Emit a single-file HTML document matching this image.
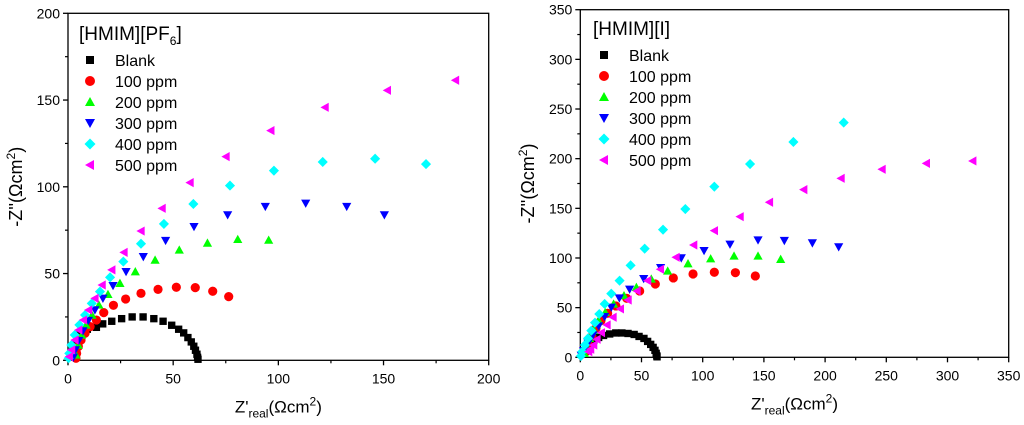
<!DOCTYPE html>
<html><head><meta charset="utf-8"><style>
html,body{margin:0;padding:0;background:#fff;width:1024px;height:425px;overflow:hidden}
svg text{font-family:"Liberation Sans",Arial,sans-serif}
</style></head><body>
<svg id="svg" width="1024" height="425" viewBox="0 0 1024 425"></svg>
<script>
const seriesNames = ["Blank","100 ppm","200 ppm","300 ppm","400 ppm","500 ppm"];
const seriesColors = ["#000","#f00","#0f0","#00f","#0ff","#f0f"];
const seriesShapes = ["square","circle","up","down","diamond","left"];

const leftBlank = [[1.3,2.1],[2.2,6],[3.3,8.8],[4.4,11.7],[5.7,14.6],[7.3,16.5],[9.2,17.9],[13.5,19],[16.5,21],[20.8,22.5],[25.5,24],[30.5,25],[35.7,25],[40.8,24],[45.2,22.5],[49.3,20.2],[52.6,17.9],[55,15.8],[57,13.1],[58.6,10.6],[59.8,8.1],[60.6,5.8],[61.3,3.5],[61.6,1.7],[61.8,0.6]];
const left100 = [[76.4,36.7],[68.8,39.8],[60.5,41.9],[51.5,42.1],[42.8,40.9],[34.7,38.6],[27.4,35.3],[21.6,31.7],[17,27.5],[13.5,23.2],[10.5,19.4],[8.1,15.6],[6.2,11.7],[4.9,7.9],[4.1,4],[3.8,1.2]];
const left200 = [[95.4,69.3],[80.7,69.7],[66.3,67.6],[52.9,63.6],[41.4,57.8],[32,51.1],[24.7,44.4],[19,38],[14.7,31.9],[11.4,26.1],[8.6,20.4],[6.5,14.6],[4.9,8.8],[3.8,3.1]];
const left300 = [[150.4,83.8],[132.5,88.6],[113,90.5],[93.8,88.6],[75.9,83.8],[59.9,77],[46.4,69],[35.8,59.7],[27.6,51.1],[21.4,43],[16.6,35.7],[12.8,29],[9.7,22.9],[7.1,16.9],[5.1,11.3],[3.5,6],[2.5,1.7]];
const left400 = [[170.2,113.1],[146,116.2],[121.1,114.3],[97.9,109.3],[77,100.7],[59.6,90.1],[45.6,78.6],[34.7,67.2],[26.3,56.9],[20,47.8],[15.2,39.6],[11.3,32.8],[8.1,26.1],[5.4,20.4],[3.2,14.6],[1.6,8.8],[0.6,4],[0.3,1.2]];
const left500 = [[184.2,161.4],[151.8,155.6],[122.2,145.8],[96.4,132.4],[75.1,117.4],[58,102.4],[44.7,87.6],[34.7,74.5],[26.6,62.2],[20.8,52.1],[16.2,43.4],[12.8,35.7],[9.8,29],[7.3,23.2],[5.1,17.5],[3.3,11.7],[1.7,6],[0.6,2.1]];

const rightBlank = [[3,4],[5,9],[8,13],[11,17],[15,20],[19,22],[24,23.5],[29,24.5],[34,24.5],[39,24],[44,23],[48,21],[52,19],[55,16],[57.5,13],[59.5,10],[61,7],[62,4],[62.5,1.5],[62.7,0.5]];
const right100 = [[143,81.9],[126.7,85.2],[109.5,85.6],[92.1,83.9],[76,79.9],[61.3,73.8],[48.5,66.8],[37.9,59.4],[29.1,51.7],[22.3,44.3],[16.9,36.9],[12.8,29.2],[9.5,20.8],[6.8,12.4],[4.6,5.7]];
const right200 = [[163.7,98.7],[145.2,102],[125.6,102],[106.5,99.3],[88,94.3],[71.4,86.9],[58,78.9],[45.8,70.5],[35.7,62.1],[27.2,53.7],[20.4,45.3],[15,36.9],[10.9,27.5],[7.6,19.1],[5.2,10.7],[3.3,4]];
const right300 = [[211.1,111.1],[189.6,115.1],[166.7,117.5],[145.2,118.1],[122.3,113.8],[101.1,107.4],[82.5,100],[65.6,90.3],[51.8,79.2],[40.3,68.5],[31.9,59.7],[25.3,50.3],[19.9,40.9],[15,31.5],[10.4,22.5],[6.3,14.1],[2.7,6.7],[0.8,2]];
const right400 = [[215.2,236.3],[174.1,216.8],[138.7,194.6],[109.5,171.8],[85.8,149.3],[67.6,128.5],[52.6,109.4],[41.1,92.6],[32.1,77.2],[25.3,64.1],[19.9,53.7],[15.5,43.6],[12,34.9],[9,26.8],[6.3,19.1],[3.8,12.4],[1.6,5.7],[0.5,1.3]];
const right500 = [[320.6,197.7],[282.7,195.3],[246.5,189.3],[213,180.2],[182.5,168.8],[154.5,156.1],[130.5,141.6],[109.5,127.5],[92.6,113.1],[78.2,100.7],[65.4,88.6],[55,77.2],[46.3,66.8],[39,57.7],[32.7,48.7],[26.7,40.3],[21.8,32.6],[17.2,24.8],[13.6,18.1],[10.9,12.4],[8.4,8.1],[6.8,5.7]];

const leftTicks = [0,50,100,150,200];
const rightTicks = [0,50,100,150,200,250,300,350];

const NS="http://www.w3.org/2000/svg";
const svg=document.getElementById('svg');
function mk(tag,attrs,parent){const e=document.createElementNS(NS,tag);for(const k in attrs)e.setAttribute(k,attrs[k]);(parent||svg).appendChild(e);return e;}

function marker(g,shape,cx,cy,color,s){
  let e;
  if(shape==="square") e=mk('rect',{x:cx-s*0.8,y:cy-s*0.8,width:s*1.6,height:s*1.6,fill:color},g);
  else if(shape==="circle") e=mk('circle',{cx:cx,cy:cy,r:s,fill:color},g);
  else {
    let p;
    if(shape==="up") p=[[cx,cy-s],[cx+s,cy+s*0.8],[cx-s,cy+s*0.8]];
    else if(shape==="down") p=[[cx,cy+s],[cx+s,cy-s*0.8],[cx-s,cy-s*0.8]];
    else if(shape==="diamond") p=[[cx,cy-s*1.1],[cx+s*1.1,cy],[cx,cy+s*1.1],[cx-s*1.1,cy]];
    else p=[[cx-s,cy],[cx+s*0.8,cy-s],[cx+s*0.8,cy+s]];
    e=mk('polygon',{points:p.map(q=>q.join(',')).join(' '),fill:color},g);
  }
  return e;
}

function chart(cfg){
  const g=mk('g',{});
  
  
  const xs=v=>cfg.x0+(v-cfg.min)/(cfg.max-cfg.min)*(cfg.x1-cfg.x0);
  const ys=v=>cfg.y0-(v-cfg.min)/(cfg.max-cfg.min)*(cfg.y0-cfg.y1);
  const frame=mk('rect',{x:cfg.x0,y:cfg.y1,width:cfg.x1-cfg.x0,height:cfg.y0-cfg.y1,fill:'none',stroke:'#000','stroke-width':1.3},g);
  
  
  const step=cfg.ticks[1]-cfg.ticks[0];
  cfg.ticks.forEach((t,i)=>{
    mk('line',{x1:xs(t),x2:xs(t),y1:cfg.y0,y2:cfg.y0+5,stroke:'#000','stroke-width':1.3},g);
    mk('line',{x1:cfg.x0,x2:cfg.x0-5,y1:ys(t),y2:ys(t),stroke:'#000','stroke-width':1.3},g);
    if(i<cfg.ticks.length-1){
      const m=t+step/2;
      mk('line',{x1:xs(m),x2:xs(m),y1:cfg.y0,y2:cfg.y0+3,stroke:'#000','stroke-width':1.2},g);
      mk('line',{x1:cfg.x0,x2:cfg.x0-3,y1:ys(m),y2:ys(m),stroke:'#000','stroke-width':1.2},g);
    }
    const xl=mk('text',{x:xs(t),y:cfg.y0+23,'font-size':14,'text-anchor':'middle'},g);
    xl.textContent=t;
    
    
    const yl=mk('text',{x:cfg.x0-8,y:ys(t)+5,'font-size':14,'text-anchor':'end'},g);
    yl.textContent=t;
    
    
  });
  const xt=mk('text',{x:(cfg.x0+cfg.x1)/2,y:cfg.y0+52,'font-size':17,'text-anchor':'middle'},g);
  xt.innerHTML='Z\'<tspan font-size="12" dy="5">real</tspan><tspan dy="-5">(Ωcm</tspan><tspan font-size="12" dy="-7">2</tspan><tspan dy="7">)</tspan>';
  
  
  const yt=mk('text',{x:0,y:0,'font-size':18,'text-anchor':'middle',transform:`translate(${cfg.yTitleX},${(cfg.y0+cfg.y1)/2}) rotate(-90)`},g);
  yt.innerHTML='-Z\'\'(Ωcm<tspan font-size="12" dy="-7">2</tspan><tspan dy="7">)</tspan>';
  
  
  cfg.series.forEach((pts,si)=>{
    const sg=mk('g',{},g);
    
    
    pts.forEach(p=>{
      const m=marker(sg,seriesShapes[si],xs(p[0]),ys(p[1]),seriesColors[si],4.6);
      
      
    });
  });
  const lg=mk('g',{},g);
  
  
  const tt=mk('text',{x:cfg.lx-11,y:cfg.ly-20,'font-size':19},lg);
  tt.innerHTML=cfg.title;
  
  
  seriesNames.forEach((n,i)=>{
    const eg=mk('g',{},lg);
    
    
    marker(eg,seriesShapes[i],cfg.lx,cfg.ly+i*21,seriesColors[i],5);
    const t=mk('text',{x:cfg.lx+25,y:cfg.ly+i*21+6,'font-size':16},eg);
    t.textContent=n;
  });
}

chart({name:'chart-hmim-pf6',x0:68,x1:488.7,y0:360.3,y1:13.3,min:0,max:200,ticks:leftTicks,
  series:[leftBlank,left100,left200,left300,left400,left500],yTitleX:22,lx:90,ly:60,
  title:'[HMIM][PF<tspan font-size="12" dy="5">6</tspan><tspan dy="-5">]</tspan>'});
chart({name:'chart-hmim-i',x0:580.3,x1:1008.7,y0:357.3,y1:9.7,min:0,max:350,ticks:rightTicks,
  series:[rightBlank,right100,right200,right300,right400,right500],yTitleX:534,lx:604,ly:55,
  title:'[HMIM][I]'});
</script>
</body></html>
